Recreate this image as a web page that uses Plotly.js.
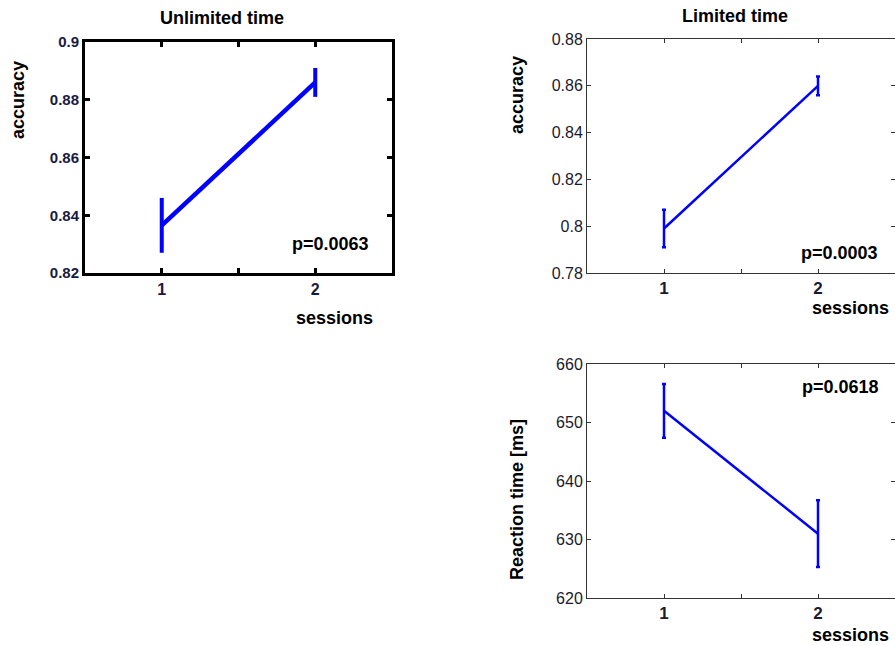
<!DOCTYPE html>
<html>
<head>
<meta charset="utf-8">
<script src="https://cdn.plot.ly/plotly-3.0.1.min.js"></script>
<style>
  html, body { margin: 0; padding: 0; background: #fff; }
  #chart { width: 895px; height: 646px; }
</style>
</head>
<body>
<div id="chart"></div>
<script>
// Session numbers shared by all three panels
const sessions = [1, 2];

// Unlimited time: accuracy mean and error
const unlimitedAccuracy = [0.8365, 0.886];
const unlimitedAccuracyErr = [0.0095, 0.005];

// Limited time: accuracy mean and error
const limitedAccuracy = [0.799, 0.86];
const limitedAccuracyErr = [0.008, 0.004];

// Limited time: reaction time mean and error (ms)
const limitedRT = [652, 631];
const limitedRTErr = [4.6, 5.7];

// Tick labels along the session axis
const sessionTickVals = [1, 1.5, 2];
const sessionTickText = ['1', '', '2'];

const W = 895, H = 646;
const px = v => v / W;
const py = v => 1 - v / H;

const BLUE = '#0000ff';
const FONT = 'Liberation Sans, Arial, Helvetica, sans-serif';

const traces = [
  {
    x: sessions, y: unlimitedAccuracy, xaxis: 'x', yaxis: 'y',
    type: 'scatter', mode: 'lines',
    line: { color: BLUE, width: 4.5 },
    error_y: { type: 'data', array: unlimitedAccuracyErr, visible: true,
               color: BLUE, thickness: 4, width: 0 },
    hoverinfo: 'skip'
  },
  {
    x: sessions, y: limitedAccuracy, xaxis: 'x2', yaxis: 'y2',
    type: 'scatter', mode: 'lines',
    line: { color: BLUE, width: 2.5 },
    error_y: { type: 'data', array: limitedAccuracyErr, visible: true,
               color: BLUE, thickness: 2.5, width: 2 },
    hoverinfo: 'skip'
  },
  {
    x: sessions, y: limitedRT, xaxis: 'x3', yaxis: 'y3',
    type: 'scatter', mode: 'lines',
    line: { color: BLUE, width: 2.5 },
    error_y: { type: 'data', array: limitedRTErr, visible: true,
               color: BLUE, thickness: 2.5, width: 2 },
    hoverinfo: 'skip'
  }
];

function sessionAxis(domain, anchor, heavy) {
  return {
    domain: domain, anchor: anchor, range: [0.5, 2.5],
    tickvals: sessionTickVals, ticktext: sessionTickText,
    ticks: 'inside', ticklen: heavy ? 5 : 4, tickwidth: heavy ? 3 : 1,
    tickcolor: heavy ? '#000' : '#333',
    showline: true, linewidth: heavy ? 3 : 1, linecolor: heavy ? '#000' : '#333',
    mirror: 'ticks', showgrid: false, zeroline: false,
    tickfont: heavy
      ? { family: FONT, size: 16, color: '#1a1a40', weight: 'bold' }
      : { family: FONT, size: 17, color: '#1a1a2e', weight: 'bold' },
    fixedrange: true
  };
}

function valueAxis(domain, anchor, range, dtick, heavy) {
  return {
    domain: domain, anchor: anchor, range: range, dtick: dtick, tick0: range[0],
    ticks: 'inside', ticklen: heavy ? 5 : 4, tickwidth: heavy ? 3 : 1,
    tickcolor: heavy ? '#000' : '#333',
    showline: true, linewidth: heavy ? 3 : 1, linecolor: heavy ? '#000' : '#333',
    mirror: 'ticks', showgrid: false, zeroline: false,
    tickfont: heavy
      ? { family: FONT, size: 15, color: '#1a1a40', weight: 'bold' }
      : { family: FONT, size: 16, color: '#1a1a2e' },
    fixedrange: true
  };
}

function label(text, x, y, size, angle) {
  return {
    text: text, xref: 'paper', yref: 'paper', x: px(x), y: py(y),
    xanchor: 'center', yanchor: 'middle', showarrow: false,
    textangle: angle || 0,
    font: { family: FONT, size: size, color: '#000', weight: 'bold' }
  };
}

const layout = {
  width: W, height: H,
  margin: { l: 0, r: 0, t: 0, b: 0 },
  paper_bgcolor: '#fff', plot_bgcolor: '#fff',
  showlegend: false,
  xaxis: sessionAxis([px(85), px(392)], 'y', true),
  yaxis: valueAxis([py(273), py(42)], 'x', [0.82, 0.9], 0.02, true),
  xaxis2: sessionAxis([px(587), 1], 'y2', false),
  yaxis2: valueAxis([py(273), py(39)], 'x2', [0.78, 0.88], 0.02, false),
  xaxis3: sessionAxis([px(587), 1], 'y3', false),
  yaxis3: valueAxis([py(598), py(364)], 'x3', [620, 660], 10, false),
  annotations: [
    label('Unlimited time', 222, 18, 18),
    label('Limited time', 735, 16, 18),
    label('accuracy', 18, 100, 18, -90),
    label('accuracy', 517, 95, 18, -90),
    label('Reaction time [ms]', 517, 500, 18, -90),
    label('sessions', 334, 318, 18),
    label('sessions', 850, 308, 18),
    label('sessions', 850, 635, 18),
    label('p=0.0063', 330, 244, 18),
    label('p=0.0003', 839, 253, 18),
    label('p=0.0618', 840, 387, 18)
  ]
};

Plotly.newPlot('chart', traces, layout, { displayModeBar: false, staticPlot: true });
</script>
</body>
</html>
